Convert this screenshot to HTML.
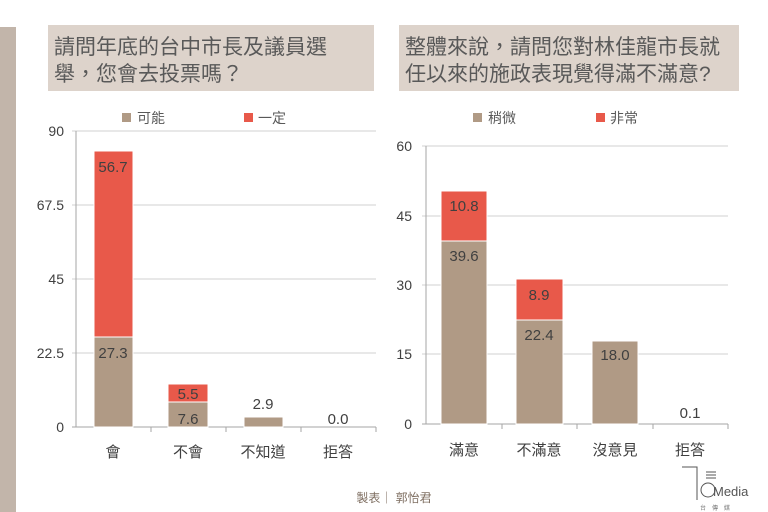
<!DOCTYPE html>
<html><head><meta charset="utf-8"><style>
body{margin:0;background:#fff;}
svg{display:block;font-family:"Liberation Sans","Noto Sans CJK TC",sans-serif;}
</style></head><body>
<svg width="768" height="512" viewBox="0 0 768 512" xmlns="http://www.w3.org/2000/svg">
<rect x="0" y="27" width="16" height="485" fill="#c2b5aa"/>
<rect x="48" y="25" width="326" height="66" fill="#ddd3cb"/>
<text x="54" y="54" font-size="21" fill="#595959">請問年底的台中市長及議員選</text>
<text x="54" y="81" font-size="21" fill="#595959">舉，您會去投票嗎？</text>
<rect x="399" y="25" width="340" height="66" fill="#ddd3cb"/>
<text x="405" y="54" font-size="21" fill="#595959">整體來說，請問您對林佳龍市長就</text>
<text x="405" y="81" font-size="21" fill="#595959">任以來的施政表現覺得滿不滿意?</text>

<g stroke="#d0d0d0" stroke-width="1">
<line x1="72" y1="131" x2="376" y2="131"/>
<line x1="72" y1="205" x2="376" y2="205"/>
<line x1="72" y1="279" x2="376" y2="279"/>
<line x1="72" y1="353" x2="376" y2="353"/>
</g>
<g stroke="#a6a6a6" stroke-width="1">
<line x1="76" y1="131" x2="76" y2="427"/>
<line x1="72" y1="427" x2="376" y2="427"/>
<line x1="151" y1="427" x2="151" y2="432"/><line x1="226" y1="427" x2="226" y2="432"/><line x1="301" y1="427" x2="301" y2="432"/><line x1="376" y1="427" x2="376" y2="432"/>
</g>
<g font-size="14" fill="#404040" text-anchor="end">
<text x="64" y="136">90</text><text x="64" y="210">67.5</text><text x="64" y="284">45</text><text x="64" y="358">22.5</text><text x="64" y="432">0</text>
</g>
<rect x="122" y="113" width="9" height="9" fill="#b09a85"/><text x="137" y="123" font-size="14" fill="#595959">可能</text>
<rect x="244" y="113" width="9" height="9" fill="#e8594a"/><text x="258" y="123" font-size="14" fill="#595959">一定</text>
<g stroke="#fff" stroke-width="1">
<rect x="94" y="337" width="39" height="90" fill="#b09a85"/>
<rect x="94" y="151" width="39" height="186" fill="#e8594a"/>
<rect x="168" y="402" width="40" height="25" fill="#b09a85"/>
<rect x="168" y="384" width="40" height="18" fill="#e8594a"/>
<rect x="244" y="417" width="39" height="10" fill="#b09a85"/>
</g>
<g font-size="15" fill="#404040" text-anchor="middle">
<text x="113" y="172">56.7</text><text x="113" y="358">27.3</text>
<text x="188" y="399">5.5</text><text x="188" y="424">7.6</text>
<text x="263" y="409">2.9</text><text x="338" y="424">0.0</text>
</g>
<g font-size="15" fill="#404040" text-anchor="middle">
<text x="113" y="457">會</text><text x="188" y="457">不會</text><text x="263" y="457">不知道</text><text x="338" y="457">拒答</text>
</g>

<g stroke="#d0d0d0" stroke-width="1">
<line x1="422" y1="146" x2="728" y2="146"/>
<line x1="422" y1="216" x2="728" y2="216"/>
<line x1="422" y1="285" x2="728" y2="285"/>
<line x1="422" y1="354" x2="728" y2="354"/>
</g>
<g stroke="#a6a6a6" stroke-width="1">
<line x1="426" y1="146" x2="426" y2="424"/>
<line x1="422" y1="424" x2="728" y2="424"/>
<line x1="502" y1="424" x2="502" y2="429"/><line x1="577" y1="424" x2="577" y2="429"/><line x1="653" y1="424" x2="653" y2="429"/><line x1="728" y1="424" x2="728" y2="429"/>
</g>
<g font-size="14" fill="#404040" text-anchor="end">
<text x="412" y="151">60</text><text x="412" y="221">45</text><text x="412" y="290">30</text><text x="412" y="359">15</text><text x="412" y="429">0</text>
</g>
<rect x="473" y="113" width="9" height="9" fill="#b09a85"/><text x="488" y="123" font-size="14" fill="#595959">稍微</text>
<rect x="596" y="113" width="9" height="9" fill="#e8594a"/><text x="610" y="123" font-size="14" fill="#595959">非常</text>
<g stroke="#fff" stroke-width="1">
<rect x="441" y="241" width="46" height="183" fill="#b09a85"/>
<rect x="441" y="191" width="46" height="50" fill="#e8594a"/>
<rect x="516" y="320" width="47" height="104" fill="#b09a85"/>
<rect x="516" y="279" width="47" height="41" fill="#e8594a"/>
<rect x="592" y="341" width="46" height="83" fill="#b09a85"/>
</g>
<g font-size="15" fill="#404040" text-anchor="middle">
<text x="464" y="211">10.8</text><text x="464" y="261">39.6</text>
<text x="539" y="300">8.9</text><text x="539" y="340">22.4</text>
<text x="615" y="360">18.0</text><text x="690" y="418">0.1</text>
</g>
<g font-size="15" fill="#404040" text-anchor="middle">
<text x="464" y="455">滿意</text><text x="539" y="455">不滿意</text><text x="615" y="455">沒意見</text><text x="690" y="455">拒答</text>
</g>

<text x="394" y="502" font-size="12" fill="#7f6f62" text-anchor="middle">製表｜ 郭怡君</text>
<g stroke="#555" stroke-width="1" fill="none">
<polyline points="682,467 697,467 697,500"/>
<line x1="706" y1="472" x2="716" y2="472"/><line x1="706" y1="475" x2="716" y2="475"/><line x1="706" y1="478" x2="716" y2="478"/>
<circle cx="708" cy="490" r="7"/>
</g>
<text x="713" y="496" font-size="13" fill="#555">Media</text>
<text x="700" y="510" font-size="6" fill="#777">台　傳　媒</text>
</svg>
</body></html>
